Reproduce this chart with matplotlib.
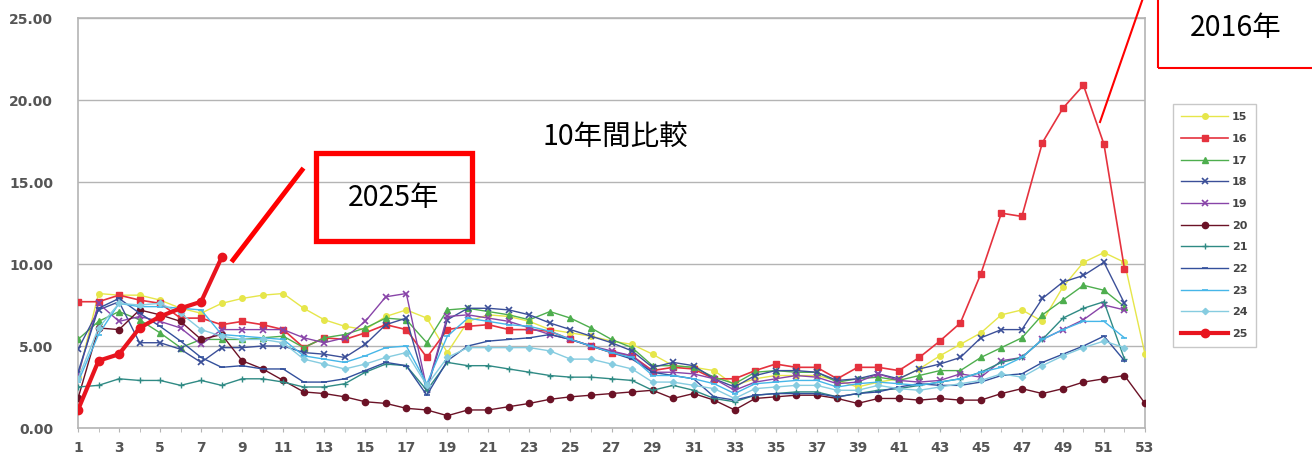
"""
Weekly trend chart: ten-year comparison (2015-2025) of weekly values,
one line per season, with call-out boxes for 2025 and 2016.
"""

import matplotlib
matplotlib.use('Agg')
import matplotlib.pyplot as plt
from matplotlib.patches import Rectangle
from matplotlib.lines import Line2D
from matplotlib.ticker import FixedLocator, FormatStrFormatter

W, H = 1312, 458
CJK = ['Noto Sans CJK JP', 'DejaVu Sans']

# --- data ------------------------------------------------------------------
s15 = [3.1, 8.2, 8.1, 8.1, 7.8, 7.3, 7.0, 7.6, 7.9, 8.1, 8.2, 7.3, 6.6, 6.2,
       6.0, 6.8, 7.2, 6.7, 4.6, 6.5, 6.9, 6.8, 6.5, 6.0, 5.8, 5.6, 5.3, 5.1,
       4.5, 3.8, 3.7, 3.5, 2.6, 3.0, 3.2, 3.2, 3.2, 2.9, 2.5, 2.8, 3.0, 3.6,
       4.4, 5.1, 5.8, 6.9, 7.2, 6.5, 8.6, 10.1, 10.7, 10.1, 4.5]
s16 = [7.7, 7.7, 8.1, 7.8, 7.6, 6.7, 6.7, 6.3, 6.5, 6.3, 6.0, 4.9, 5.5, 5.4,
       5.8, 6.3, 6.0, 4.3, 6.0, 6.2, 6.3, 6.0, 6.0, 5.9, 5.4, 5.0, 4.6, 4.4,
       3.5, 3.7, 3.6, 3.0, 3.0, 3.5, 3.9, 3.7, 3.7, 3.0, 3.7, 3.7, 3.5, 4.3,
       5.3, 6.4, 9.4, 13.1, 12.9, 17.4, 19.5, 20.9, 17.3, 9.7]
s17 = [5.4, 6.5, 7.1, 6.6, 5.8, 4.9, 5.4, 5.4, 5.4, 5.5, 5.6, 4.9, 5.5, 5.7,
       6.1, 6.7, 6.6, 5.2, 7.2, 7.3, 7.1, 6.9, 6.6, 7.1, 6.7, 6.1, 5.4, 4.9,
       3.8, 3.8, 3.7, 3.1, 2.7, 3.4, 3.5, 3.4, 3.4, 2.8, 3.0, 3.1, 2.9, 3.2,
       3.5, 3.5, 4.3, 4.9, 5.5, 6.9, 7.8, 8.7, 8.4, 7.4]
s18 = [4.8, 7.2, 7.7, 5.2, 5.2, 4.8, 4.0, 4.9, 4.9, 5.0, 5.0, 4.6, 4.5, 4.3,
       5.1, 6.3, 6.7, 2.3, 6.6, 7.3, 7.3, 7.2, 6.9, 6.4, 6.0, 5.6, 5.2, 4.7,
       3.7, 4.0, 3.8, 3.0, 2.5, 3.2, 3.5, 3.5, 3.4, 2.9, 3.0, 3.3, 3.0, 3.6,
       3.9, 4.3, 5.5, 6.0, 6.0, 7.9, 8.9, 9.3, 10.1, 7.6]
s19 = [3.2, 7.6, 6.5, 6.8, 6.5, 6.1, 5.1, 6.0, 6.0, 6.0, 6.0, 5.5, 5.2, 5.5,
       6.5, 8.0, 8.2, 2.4, 6.8, 6.9, 6.7, 6.5, 6.1, 5.7, 5.4, 5.0, 4.7, 4.4,
       3.4, 3.4, 3.3, 3.0, 2.3, 2.8, 3.0, 3.2, 3.1, 2.7, 2.8, 3.3, 2.9, 2.8,
       2.9, 3.3, 3.1, 4.1, 4.3, 5.4, 6.0, 6.6, 7.5, 7.2]
s20 = [1.8, 6.1, 6.0, 7.2, 6.9, 6.5, 5.4, 5.7, 4.1, 3.6, 2.9, 2.2, 2.1, 1.9,
       1.6, 1.5, 1.2, 1.1, 0.75, 1.1, 1.1, 1.3, 1.5, 1.75, 1.9, 2.0, 2.1, 2.2,
       2.3, 1.8, 2.1, 1.7, 1.1, 1.8, 1.9, 2.0, 2.0, 1.8, 1.5, 1.8, 1.8, 1.7,
       1.8, 1.7, 1.7, 2.1, 2.4, 2.1, 2.4, 2.8, 3.0, 3.2, 1.5]
s21 = [2.5, 2.6, 3.0, 2.9, 2.9, 2.6, 2.9, 2.6, 3.0, 3.0, 2.8, 2.5, 2.5, 2.7,
       3.4, 3.9, 3.8, 2.3, 4.0, 3.8, 3.8, 3.6, 3.4, 3.2, 3.1, 3.1, 3.0, 2.9,
       2.3, 2.6, 2.3, 1.8, 1.6, 2.0, 2.1, 2.2, 2.2, 1.9, 2.1, 2.3, 2.4, 2.6,
       2.8, 3.0, 3.4, 4.0, 4.3, 5.4, 6.7, 7.3, 7.7, 4.2]
s22 = [3.4, 7.3, 7.9, 7.0, 6.2, 5.3, 4.3, 3.7, 3.8, 3.6, 3.6, 2.8, 2.8, 3.0,
       3.5, 4.0, 3.8, 2.0, 4.1, 5.0, 5.3, 5.4, 5.5, 5.7, 5.4, 5.0, 4.6, 4.2,
       3.4, 3.2, 3.0, 1.9, 1.7, 2.0, 2.1, 2.1, 2.1, 1.9, 2.1, 2.2, 2.5, 2.7,
       2.6, 2.6, 2.8, 3.2, 3.3, 4.0, 4.5, 5.0, 5.6, 4.1]
s23 = [2.8, 5.7, 7.6, 7.4, 7.4, 7.3, 7.2, 5.7, 5.6, 5.5, 5.4, 4.4, 4.2, 4.0,
       4.4, 4.9, 5.0, 2.7, 5.6, 6.7, 6.5, 6.3, 6.2, 5.9, 5.4, 5.0, 4.6, 4.3,
       3.2, 3.2, 3.0, 2.7, 2.1, 2.7, 2.8, 2.9, 2.9, 2.5, 2.7, 2.8, 2.7, 2.6,
       2.8, 3.0, 3.4, 3.7, 4.3, 5.4, 6.0, 6.5, 6.5, 5.5]
s24 = [3.0, 6.1, 7.6, 7.5, 7.6, 7.0, 6.0, 5.6, 5.4, 5.4, 5.2, 4.2, 3.9, 3.6,
       3.9, 4.3, 4.6, 2.6, 4.3, 4.9, 4.9, 4.9, 4.9, 4.7, 4.2, 4.2, 3.9, 3.6,
       2.8, 2.8, 2.6, 2.4, 1.8, 2.4, 2.5, 2.6, 2.6, 2.3, 2.3, 2.6, 2.4, 2.3,
       2.5, 2.7, 2.9, 3.3, 3.1, 3.8, 4.4, 4.9, 5.3, 4.9]
s25 = [1.1, 4.1, 4.5, 6.1, 6.8, 7.3, 7.7, 10.4]

LABELS = ['15', '16', '17', '18', '19', '20', '21', '22', '23', '24', '25']
SERIES = [s15, s16, s17, s18, s19, s20, s21, s22, s23, s24, s25]

# --- styles ----------------------------------------------------------------
STYLE = {
    '15': dict(color='#E6E64A', marker='o', ms=4.0, lw=1.0),
    '16': dict(color='#E5323E', marker='s', ms=4.5, lw=1.2),
    '17': dict(color='#4EAE4E', marker='^', ms=4.5, lw=1.0),
    '18': dict(color='#3B4F98', marker='x', ms=4.5, lw=1.0, mew=1.2),
    '19': dict(color='#8844A8', marker='x', ms=4.5, lw=1.0, mew=1.2),
    '20': dict(color='#6B1226', marker='o', ms=4.5, lw=1.0),
    '21': dict(color='#2F8A84', marker='+', ms=4.5, lw=1.0, mew=1.0),
    '22': dict(color='#33509C', marker='_', ms=4.0, lw=1.0, mew=1.2),
    '23': dict(color='#46B6E8', marker='_', ms=4.0, lw=1.0, mew=1.2),
    '24': dict(color='#86CCE0', marker='D', ms=3.2, lw=1.0),
    '25': dict(color='#E8141E', marker='o', ms=6.0, lw=3.0),
}

GRID_GRAY = '#B4B4B4'
TICK_GRAY = '#555555'


def px(x, y):
    """Reference-picture pixel -> figure fraction."""
    return x / W, 1 - y / H


def make_figure(out_path):
    fig = plt.figure(figsize=(W / 100, H / 100), dpi=100)
    l, b = px(78, 428)
    r, t = px(1145, 18)
    ax = fig.add_axes([l, b, r - l, t - b])

    for lab, vals in zip(LABELS, SERIES):
        st = dict(STYLE[lab])
        weeks = list(range(1, len(vals) + 1))
        ax.plot(weeks, vals, label=lab,
                color=st.pop('color'), marker=st.pop('marker'),
                markersize=st.pop('ms'), lw=st.pop('lw'),
                zorder=5 if lab == '25' else 3, **st)

    ax.set_xlim(1, 53)
    ax.set_ylim(0, 25)
    ax.xaxis.set_major_locator(FixedLocator(range(1, 54, 2)))
    ax.xaxis.set_minor_locator(FixedLocator(range(1, 54)))
    ax.yaxis.set_major_locator(FixedLocator([0, 5, 10, 15, 20, 25]))
    ax.yaxis.set_major_formatter(FormatStrFormatter('%.2f'))
    ax.grid(axis='y', color=GRID_GRAY, lw=1.0, zorder=0)
    for sp in ax.spines.values():
        sp.set_color(GRID_GRAY)
        sp.set_linewidth(1.2)
    ax.tick_params(axis='x', which='both', direction='out', length=3,
                   color=GRID_GRAY, labelsize=10, labelcolor=TICK_GRAY, pad=6)
    ax.tick_params(axis='y', length=0, labelsize=10, labelcolor=TICK_GRAY,
                   pad=18)
    for tl in ax.get_xticklabels() + ax.get_yticklabels():
        tl.set_fontweight('bold')

    leg = fig.legend(loc='upper left', bbox_to_anchor=px(1173, 104),
                     fontsize=8, frameon=True, fancybox=False,
                     handlelength=4.2, handletextpad=0.35, labelspacing=1.05,
                     borderpad=0.75, borderaxespad=0)
    leg.get_frame().set_edgecolor('#BBBBBB')
    leg.get_frame().set_linewidth(1.0)
    for txt in leg.get_texts():
        txt.set_color('#444444')
        txt.set_fontweight('bold')

    # title inside the plot
    fig.text(*px(615, 137), '10年間比較', ha='center', va='center',
             fontsize=20.5, family=CJK)

    # 2025 call-out
    x0, y0 = px(316, 241)
    fig.add_artist(Rectangle((x0, y0), 156 / W, 88 / H, fill=False,
                             ec='#FF0000', lw=3.8, transform=fig.transFigure))
    fig.text(*px(394, 198), '2025年', ha='center', va='center',
             fontsize=20.5, family=CJK)
    (ax1, ay1), (ax2, ay2) = px(233, 260), px(302, 170)
    fig.add_artist(Line2D([ax1, ax2], [ay1, ay2], color='#FF0000', lw=3.5,
                          transform=fig.transFigure))

    # 2016 call-out
    x0, y0 = px(1158, 68)
    fig.add_artist(Rectangle((x0, y0), 170 / W, 80 / H, fill=False,
                             ec='#FF0000', lw=1.5, transform=fig.transFigure))
    fig.text(*px(1236, 28), '2016年', ha='center', va='center',
             fontsize=20.5, family=CJK)
    (bx1, by1), (bx2, by2) = px(1100, 122), px(1143, -2)
    fig.add_artist(Line2D([bx1, bx2], [by1, by2], color='#FF0000', lw=1.5,
                          transform=fig.transFigure))

    fig.savefig(out_path, dpi=100)
    plt.close(fig)


if __name__ == '__main__':
    make_figure('out.png')
